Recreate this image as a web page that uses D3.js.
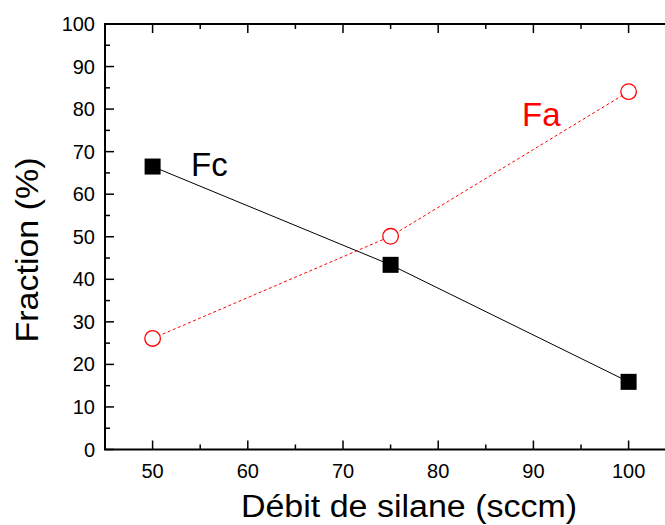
<!DOCTYPE html>
<html>
<head>
<meta charset="utf-8">
<script src="https://cdn.jsdelivr.net/npm/d3@7"></script>
<style>
html,body{margin:0;padding:0;background:#fff;}
svg{display:block;}
text{font-family:"Liberation Sans",Arial,Helvetica,sans-serif;}
</style>
</head>
<body>
<script>
// Data
const flowRates = [50, 75, 100];
const fcValues = [66.5, 43.4, 15.9];
const faValues = [26.1, 50.1, 84.1];
const xTicks = [50, 60, 70, 80, 90, 100];
const yTicks = [0, 10, 20, 30, 40, 50, 60, 70, 80, 90, 100];
const xMinor = [45, 55, 65, 75, 85, 95, 105];
const yMinor = [5, 15, 25, 35, 45, 55, 65, 75, 85, 95];
const xTitle = "Débit de silane (sccm)";
const yTitle = "Fraction (%)";

(function () {
const W = 665, H = 525;
const svg = d3.select("body").append("svg").attr("width", W).attr("height", H);

const pLeft = 105, pTop = 24, pBottom = 449.5;
const x = d3.scaleLinear().domain([45, 105]).range([pLeft, pLeft + 60 * 9.52]);
const y = d3.scaleLinear().domain([0, 100]).range([pBottom, pTop]);
const pRight = x(105);

const g = svg.append("g");

// Data lines
const line = d3.line().x(d => x(d[0])).y(d => y(d[1]));
g.append("path")
  .datum(flowRates.map((v, i) => [v, fcValues[i]]))
  .attr("d", line).attr("fill", "none").attr("stroke", "#000").attr("stroke-width", 1);
g.append("path")
  .datum(flowRates.map((v, i) => [v, faValues[i]]))
  .attr("d", line).attr("fill", "none").attr("stroke", "#ff0000").attr("stroke-width", 1)
  .attr("stroke-dasharray", "3,2.5");

// Markers
const sq = 16;
g.selectAll("rect.fc").data(flowRates).enter().append("rect")
  .attr("class", "fc")
  .attr("x", (d) => x(d) - sq / 2)
  .attr("y", (d, i) => y(fcValues[i]) - sq / 2)
  .attr("width", sq).attr("height", sq).attr("fill", "#000");
g.selectAll("circle.fa").data(flowRates).enter().append("circle")
  .attr("class", "fa")
  .attr("cx", d => x(d))
  .attr("cy", (d, i) => y(faValues[i]))
  .attr("r", 7.8).attr("fill", "#fff").attr("stroke", "#ff0000").attr("stroke-width", 1.3);

// Axes frame
const axG = svg.append("g").attr("stroke", "#000").attr("stroke-width", 2);
axG.append("line").attr("x1", pLeft).attr("x2", pLeft).attr("y1", pTop).attr("y2", pBottom);
axG.append("line").attr("x1", pLeft - 1).attr("x2", pRight).attr("y1", pBottom).attr("y2", pBottom);
axG.append("line").attr("x1", pLeft - 1).attr("x2", pRight).attr("y1", pTop).attr("y2", pTop);
axG.append("line").attr("x1", pRight).attr("x2", pRight).attr("y1", pTop).attr("y2", pBottom);

const tk = svg.append("g").attr("stroke", "#000").attr("stroke-width", 1.5);
xTicks.forEach(t => {
  tk.append("line").attr("x1", x(t)).attr("x2", x(t)).attr("y1", pBottom).attr("y2", pBottom - 9);
  tk.append("line").attr("x1", x(t)).attr("x2", x(t)).attr("y1", pTop).attr("y2", pTop + 9);
});
xMinor.forEach(t => {
  tk.append("line").attr("x1", x(t)).attr("x2", x(t)).attr("y1", pBottom).attr("y2", pBottom - 5);
  tk.append("line").attr("x1", x(t)).attr("x2", x(t)).attr("y1", pTop).attr("y2", pTop + 5);
});
yTicks.forEach(t => {
  tk.append("line").attr("x1", pLeft).attr("x2", pLeft + 9).attr("y1", y(t)).attr("y2", y(t));
  tk.append("line").attr("x1", pRight).attr("x2", pRight - 9).attr("y1", y(t)).attr("y2", y(t));
});
yMinor.forEach(t => {
  tk.append("line").attr("x1", pLeft).attr("x2", pLeft + 5).attr("y1", y(t)).attr("y2", y(t));
  tk.append("line").attr("x1", pRight).attr("x2", pRight - 5).attr("y1", y(t)).attr("y2", y(t));
});

// Tick labels
svg.append("g").selectAll("text").data(yTicks).enter().append("text")
  .attr("x", 95).attr("y", d => y(d)).attr("dy", "0.35em")
  .attr("text-anchor", "end").attr("font-size", 20).attr("fill", "#000")
  .text(d => d);
svg.append("g").selectAll("text").data(xTicks).enter().append("text")
  .attr("x", d => x(d)).attr("y", 477.5)
  .attr("text-anchor", "middle").attr("font-size", 20).attr("fill", "#000")
  .text(d => d);

// Axis titles
svg.append("text").attr("transform", "translate(409,517) scale(1,0.9)").attr("text-anchor", "middle")
  .attr("font-size", 34).attr("fill", "#000").text(xTitle);
svg.append("text").attr("transform", "translate(38,250) rotate(-90) scale(1,0.9)")
  .attr("text-anchor", "middle").attr("font-size", 34).attr("fill", "#000").text(yTitle);

// Series labels
svg.append("text").attr("x", 191).attr("y", 176).attr("font-size", 33).attr("fill", "#000").text("Fc");
svg.append("text").attr("x", 522).attr("y", 125.5).attr("font-size", 33).attr("fill", "#ff0000").text("Fa");
})();
</script>
</body>
</html>
